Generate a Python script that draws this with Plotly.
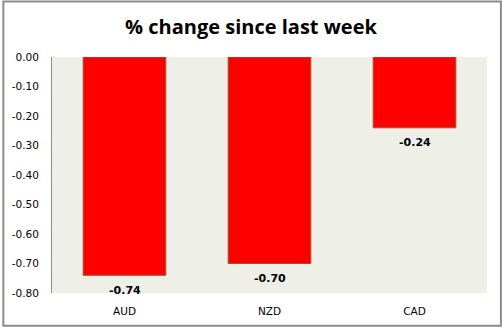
import plotly.graph_objects as go

currencies = ["AUD", "NZD", "CAD"]
pct_change = [-0.74, -0.70, -0.24]
y_ticks = [0.0, -0.1, -0.2, -0.3, -0.4, -0.5, -0.6, -0.7, -0.8]

fig = go.Figure(
    go.Bar(
        x=currencies,
        y=pct_change,
        marker=dict(color="#FF0000", line=dict(color="#A0522D", width=1)),
        width=0.57,
        hoverinfo="x+y",
    )
)

# value labels sit just beneath the end of each bar
for cur, val in zip(currencies, pct_change):
    fig.add_annotation(
        x=cur,
        y=val,
        text=f"<b>{val:.2f}</b>",
        showarrow=False,
        yanchor="middle",
        yshift=-15,
        font=dict(family="DejaVu Sans", size=11, color="black"),
    )

fig.update_layout(
    width=502,
    height=329,
    margin=dict(l=49, r=15, t=57, b=34),
    paper_bgcolor="white",
    plot_bgcolor="#EEF0E8",
    showlegend=False,
    title=dict(
        text="<b>% change since last week</b>",
        x=0.5,
        xanchor="center",
        y=0.918,
        yanchor="middle",
        font=dict(family="Open Sans", size=20, color="black"),
    ),
    xaxis=dict(
        showgrid=False,
        showline=False,
        ticks="",
        ticklabelstandoff=10,
        tickfont=dict(family="DejaVu Sans", size=10.5, color="black"),
    ),
    yaxis=dict(
        range=[-0.8, 0],
        tickvals=y_ticks,
        ticktext=[f"{v:.2f}" for v in y_ticks],
        showgrid=False,
        zeroline=False,
        showline=True,
        linecolor="#8C8C8C",
        linewidth=1,
        ticks="",
        ticklabelstandoff=10,
        tickfont=dict(family="DejaVu Sans", size=10.5, color="black"),
    ),
    shapes=[
        dict(
            type="rect",
            xref="paper",
            yref="paper",
            x0=-49 / 438,
            x1=1 + 14 / 438,
            y0=-33 / 238,
            y1=1 + 56 / 238,
            line=dict(color="#8C8C8C", width=2),
        )
    ],
)

fig.write_html("out.html")
